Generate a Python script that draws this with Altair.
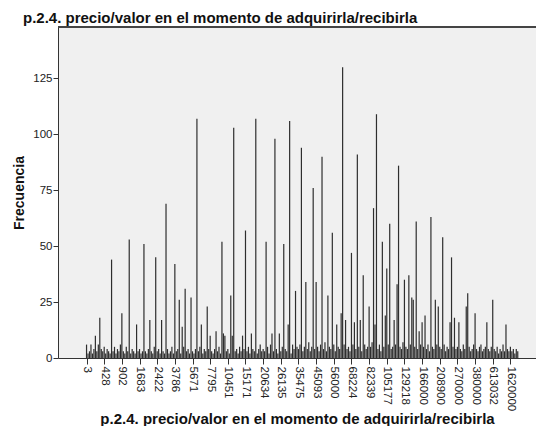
import altair as alt
import pandas as pd

title_text = "p.2.4. precio/valor en el momento de adquirirla/recibirla"
y_title = "Frecuencia"

# Labels shown on the x axis (every 12th category)
tick_labels = ["3", "428", "902", "1683", "2422", "3786", "5671", "7795",
               "10451", "15171", "20634", "26135", "35475", "45093", "56000",
               "68224", "82339", "105177", "129218", "166000", "208900",
               "270000", "380000", "613032", "1620000"]
label_step = 12

# Frequencies per category (one row = 12 categories)
freq = [
    6, 2, 3, 6, 2, 4, 10, 3, 6, 18, 4, 3,
    5, 2, 4, 3, 2, 44, 3, 5, 2, 4, 3, 6,
    20, 3, 2, 5, 3, 53, 2, 4, 3, 2, 15, 3,
    4, 2, 3, 51, 3, 2, 4, 17, 3, 2, 5, 45,
    3, 4, 2, 17, 3, 2, 69, 4, 2, 3, 5, 2,
    42, 3, 4, 26, 2, 14, 5, 31, 3, 4, 2, 27,
    3, 2, 4, 107, 3, 5, 15, 2, 4, 3, 23, 4,
    10, 3, 2, 4, 12, 3, 5, 2, 52, 11, 10, 3,
    4, 2, 28, 10, 103, 3, 4, 2, 5, 3, 10, 4,
    57, 3, 5, 2, 11, 4, 3, 107, 2, 4, 6, 3,
    4, 3, 52, 5, 2, 6, 11, 3, 98, 4, 2, 11,
    3, 5, 51, 4, 3, 15, 106, 2, 6, 4, 30, 5,
    4, 6, 94, 3, 5, 34, 4, 7, 3, 5, 76, 4,
    34, 5, 3, 6, 90, 4, 7, 3, 28, 5, 4, 56,
    6, 3, 15, 5, 4, 20, 130, 6, 17, 4, 5, 3,
    47, 6, 16, 4, 91, 5, 17, 3, 37, 6, 4, 5,
    23, 5, 7, 67, 15, 109, 4, 6, 3, 52, 5, 19,
    40, 6, 60, 4, 5, 17, 6, 33, 86, 5, 4, 7,
    35, 5, 4, 37, 6, 27, 26, 5, 61, 4, 12, 6,
    16, 5, 19, 4, 6, 3, 63, 5, 4, 26, 6, 23,
    5, 4, 54, 6, 3, 5, 4, 16, 45, 5, 18, 4,
    5, 16, 4, 3, 6, 4, 23, 29, 5, 3, 4, 6,
    20, 4, 3, 5, 6, 3, 4, 5, 16, 4, 3, 5,
    26, 4, 3, 5, 2, 4, 3, 6, 3, 15, 4, 3,
    5, 3, 4, 2, 4, 3,
]

y_ticks = [0, 25, 50, 75, 100, 125]

df = pd.DataFrame({"idx": list(range(len(freq))), "freq": freq})

tick_positions = [i * label_step for i in range(len(tick_labels))]
label_array = "[" + ",".join("'" + s + "'" for s in tick_labels) + "]"
label_expr = label_array + "[round(datum.value / " + str(label_step) + ")]"

FONT = "Liberation Sans"
W, H = 478, 331

bars = alt.Chart(df).mark_bar(size=1.2, color="#2e2e2e").encode(
    x=alt.X(
        "idx:Q",
        scale=alt.Scale(domain=[-16, 302], nice=False, zero=False),
        axis=alt.Axis(
            values=tick_positions,
            labelExpr=label_expr,
            labelAngle=90,
            labelAlign="left",
            labelBaseline="middle",
            labelFont=FONT,
            labelFontSize=11.5,
            labelColor="#222222",
            labelPadding=2,
            labelOverlap=False,
            tickSize=6,
            tickColor="#333333",
            domainColor="#333333",
            grid=False,
            title=title_text,
            titleFont=FONT,
            titleFontSize=15,
            titleFontWeight="bold",
            titleColor="#111111",
            titleY=65,
            titleBaseline="alphabetic",
        ),
    ),
    y=alt.Y(
        "freq:Q",
        scale=alt.Scale(domain=[0, 148], nice=False),
        axis=alt.Axis(
            values=y_ticks,
            labelFont=FONT,
            labelFontSize=11.5,
            labelColor="#222222",
            labelPadding=1,
            tickSize=5,
            tickColor="#333333",
            domainColor="#333333",
            grid=False,
            title=y_title,
            titleFont=FONT,
            titleFontSize=14,
            titleFontWeight="bold",
            titleColor="#111111",
            titleX=-32,
            titleBaseline="bottom",
        ),
    ),
)

# top frame line of the plot area
top_frame = alt.Chart(df).mark_rule(color="#444444", strokeWidth=1.5).encode(
    x=alt.value(0), x2=alt.value(W), y=alt.value(0)
)

chart = alt.layer(bars, top_frame).properties(
    width=W,
    height=H,
    title=alt.TitleParams(
        title_text,
        anchor="start",
        dx=11,
        dy=19,
        font=FONT,
        fontSize=15,
        fontWeight="bold",
        color="#111111",
        offset=7,
        baseline="alphabetic",
    ),
    autosize=alt.AutoSizeParams(type="none"),
    padding={"left": 50, "top": 19, "right": 0, "bottom": 68},
).configure_view(
    fill="#f0f0f0",
    strokeWidth=0,
)

chart.save("out.html", embed_options={"renderer": "svg", "actions": False})
